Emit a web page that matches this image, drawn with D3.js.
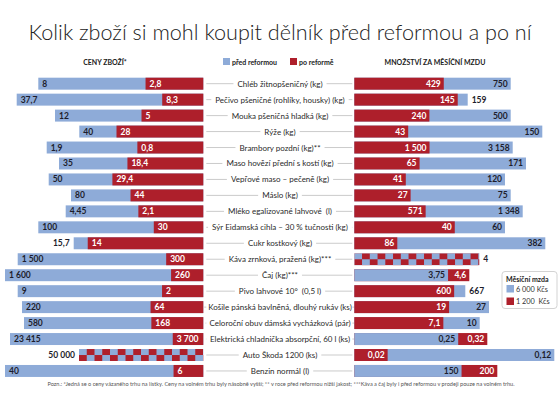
<!DOCTYPE html>
<html><head><meta charset="utf-8">
<script src="https://cdn.jsdelivr.net/npm/d3@7"></script>
<style>
body{margin:0;background:#fff;}
svg{display:block;font-family:Lato,"Open Sans",sans-serif;}
</style></head>
<body><svg id="c" width="560" height="420"></svg>
<script>
const categories = ["Chléb žitnopšeničný (kg)", "Pečivo pšeničné (rohlíky, housky) (kg)", "Mouka pšeničná hladká (kg)", "Rýže (kg)", "Brambory pozdní (kg)**", "Maso hovězí přední s kostí (kg)", "Vepřové maso – pečeně (kg)", "Máslo (kg)", "Mléko egalizované lahvové  (l)", "Sýr Eidamská cihla – 30 % tučnosti (kg)", "Cukr kostkový (kg)", "Káva zrnková, pražená (kg)***", "Čaj (kg)***", "Pivo lahvové 10°  (0,5 l)", "Košile pánská bavlněná, dlouhý rukáv (ks)", "Celoroční obuv dámská vycházková (pár)", "Elektrická chladnička absorpční, 60 l (ks)", "Auto Škoda 1200 (ks)", "Benzin normál (l)"];
const priceBefore = [8, 37.7, 12, 40, 1.9, 35, 50, 80, 4.45, 100, 15.7, 1500, 1600, 9, 220, 580, 23415, 50000, 40];
const priceAfter  = [2.8, 8.3, 5, 28, 0.8, 18.4, 29.4, 44, 2.1, 30, 14, 300, 260, 2, 64, 168, 3700, 50000, 6];
const qtyBefore = [750, 159, 500, 150, 3158, 171, 120, 75, 1348, 60, 382, 4, 3.75, 667, 27, 10, 0.25, 0.12, 150];
const qtyAfter  = [429, 145, 240, 43, 1500, 65, 41, 27, 571, 40, 86, 4, 4.6, 600, 19, 7.1, 0.32, 0.02, 200];
const seriesNames = ["před reformou", "po reformě"];
const wageLabels = ["6 000 Kčs", "1 200  Kčs"];

// layout (per-row display extents of the longest bar, px)
const leftSpan  = [165,186.6,148.3,124,156.6,144.3,154.6,132.3,137.6,165,129.6,185.6,198.3,185.6,181.3,179.3,193.3,124.3,198.3];
const rightSpan = [156.4,113.4,156.4,188,158.4,171.7,150.7,156.4,168.4,150.7,191,125,115,111,134.7,125.4,133,200,143];
const BLUE = "#8eabd8", RED = "#ae1f2b", DARK = "#1d1d2b";
const leftEdge = 203.3, rightStart = 354.3;

const loc = d3.formatLocale({decimal: ",", thousands: "\u00a0", grouping: [3], currency: ["", ""]});
const fmt = loc.format(",~f");

const svg = d3.select("#c");
const defs = svg.append("defs");
function checker(id, x0, y0) {
  const p = defs.append("pattern").attr("id", id).attr("patternUnits", "userSpaceOnUse")
    .attr("width", 15.5).attr("height", 12).attr("x", x0).attr("y", y0);
  p.append("rect").attr("width", 15.5).attr("height", 12).attr("fill", BLUE);
  p.append("rect").attr("x", 7.75).attr("y", 0).attr("width", 7.75).attr("height", 6).attr("fill", RED);
  p.append("rect").attr("x", 0).attr("y", 6).attr("width", 7.75).attr("height", 6).attr("fill", RED);
}

const y = d3.scaleBand().domain(categories).range([75.7, 75.7 + 19 * 15.96]).paddingInner(0.25).paddingOuter(0.125);
const bw = y.bandwidth();

// title
svg.append("text").attr("x", 280).attr("y", 39.5).attr("text-anchor", "middle")
  .attr("font-size", 21.6).attr("font-weight", 300).attr("fill", "#222")
  .text("Kolik zboží si mohl koupit dělník před reformou a po ní");

// headers
svg.append("text").attr("x", 105).attr("y", 64.5).attr("text-anchor", "middle").attr("font-size", 7)
  .attr("font-weight", 700).attr("fill", "#222").text("CENY ZBOŽÍ*");
svg.append("text").attr("x", 435).attr("y", 64.5).attr("text-anchor", "middle").attr("font-size", 7)
  .attr("font-weight", 700).attr("fill", "#222").text("MNOŽSTVÍ ZA MĚSÍČNÍ MZDU");
const lg = svg.append("g");
[[223, BLUE, seriesNames[0]], [290, RED, seriesNames[1]]].forEach(([x, c, t]) => {
  lg.append("rect").attr("x", x).attr("y", 58).attr("width", 7).attr("height", 7).attr("fill", c);
  lg.append("text").attr("x", x + 9).attr("y", 64.5).attr("font-size", 7).attr("font-weight", 700).attr("fill", "#222").text(t);
});

const labelSize = 8.5;
function addLabel(g, x, yc, anchor, color, v) {
  return g.append("text").attr("x", x).attr("y", yc + 3).attr("text-anchor", anchor)
    .attr("font-size", labelSize).attr("font-weight", 700).attr("fill", color).text(fmt(v));
}
function textW(g, v) {
  const t = g.append("text").attr("font-size", labelSize).attr("font-weight", 700).text(fmt(v));
  const w = t.node().getComputedTextLength(); t.remove(); return w;
}

categories.forEach((cat, i) => {
  const y0 = y(cat), yc = y0 + bw / 2;
  const g = svg.append("g");
  // center label + connector
  const t = g.append("text").attr("x", 280).attr("y", yc + 3).attr("text-anchor", "middle")
    .attr("font-size", 8).attr("fill", "#2a2a2a").attr("xml:space", "preserve").text(cat);
  const tw = t.node().getComputedTextLength();
  g.insert("line", "text").attr("x1", leftEdge + 3).attr("x2", 280 - tw / 2 - 4).attr("y1", yc).attr("y2", yc).attr("stroke", "#b5b5b5").attr("stroke-width", 0.7);
  g.insert("line", "text").attr("x1", 280 + tw / 2 + 4).attr("x2", rightStart - 2).attr("y1", yc).attr("y2", yc).attr("stroke", "#b5b5b5").attr("stroke-width", 0.7);

  // LEFT: prices, right-aligned at leftEdge
  const pb = priceBefore[i], pa = priceAfter[i];
  const sl = d3.scaleLinear().domain([0, Math.max(pb, pa)]).range([0, leftSpan[i]]);
  if (pb === pa) {
    const id = "chkL" + i; checker(id, leftEdge - sl(pb), y0);
    g.append("rect").attr("x", leftEdge - sl(pb)).attr("y", y0).attr("width", sl(pb)).attr("height", bw).attr("fill", `url(#${id})`);
    addLabel(g, leftEdge - sl(pb) - 4, yc, "end", DARK, pb);
  } else {
    const bars = [[pb, BLUE, DARK], [pa, RED, "#fff"]].sort((a, b) => b[0] - a[0]);
    bars.forEach(([v, c]) => g.append("rect").attr("x", leftEdge - sl(v)).attr("y", y0).attr("width", sl(v)).attr("height", bw).attr("fill", c));
    const [big, small] = bars;
    const vis = sl(big[0]) - sl(small[0]);
    if (vis > textW(g, big[0]) + 6) addLabel(g, leftEdge - sl(big[0]) + 4, yc, "start", big[2], big[0]);
    else addLabel(g, leftEdge - sl(big[0]) - 4, yc, "end", DARK, big[0]);
    addLabel(g, leftEdge - sl(small[0]) + 4, yc, "start", small[2], small[0]);
  }

  // RIGHT: quantities, left-aligned at rightStart
  const qb = qtyBefore[i], qa = qtyAfter[i];
  const sr = d3.scaleLinear().domain([0, Math.max(qb, qa)]).range([0, rightSpan[i]]);
  if (qb === qa) {
    const id = "chkR" + i; checker(id, rightStart, y0);
    g.append("rect").attr("x", rightStart).attr("y", y0).attr("width", sr(qb)).attr("height", bw).attr("fill", `url(#${id})`);
    addLabel(g, rightStart + sr(qb) + 4, yc, "start", DARK, qb);
  } else {
    const bars = [[qb, BLUE, DARK], [qa, RED, "#fff"]].sort((a, b) => b[0] - a[0]);
    bars.forEach(([v, c]) => g.append("rect").attr("x", rightStart).attr("y", y0).attr("width", sr(v)).attr("height", bw).attr("fill", c));
    const [big, small] = bars;
    const vis = sr(big[0]) - sr(small[0]);
    if (vis > textW(g, big[0]) + 5) addLabel(g, rightStart + sr(big[0]) - 3, yc, "end", big[2], big[0]);
    else addLabel(g, rightStart + sr(big[0]) + 4, yc, "start", DARK, big[0]);
    addLabel(g, rightStart + sr(small[0]) - 3, yc, "end", small[2], small[0]);
  }
});

// wage legend box
const wb = svg.append("g");
wb.append("rect").attr("x", 502).attr("y", 271.5).attr("width", 55).attr("height", 37).attr("rx", 3).attr("fill", "#fff").attr("stroke", "#c8c8c8").attr("stroke-width", 0.8);
wb.append("text").attr("x", 506).attr("y", 281.5).attr("font-size", 7).attr("font-weight", 700).attr("fill", "#222").text("Měsíční mzda");
[[BLUE, wageLabels[0]], [RED, wageLabels[1]]].forEach(([c, t], k) => {
  wb.append("rect").attr("x", 506.5).attr("y", 285 + k * 12.5).attr("width", 7.5).attr("height", 7.5).attr("fill", c);
  wb.append("text").attr("x", 516).attr("y", 291.5 + k * 12.5).attr("font-size", 7.3).attr("fill", "#333").attr("xml:space", "preserve").text(t);
});

// footnote
svg.append("text").attr("x", 281).attr("y", 386).attr("text-anchor", "middle").attr("font-size", 5.6).attr("fill", "#555")
  .text("Pozn.: *Jedná se o ceny vázaného trhu na lístky. Ceny na volném trhu byly násobně vyšší; ** v roce před reformou nižší jakost; ***Káva a čaj byly i před reformou v prodeji pouze na volném trhu.");
</script></body></html>
